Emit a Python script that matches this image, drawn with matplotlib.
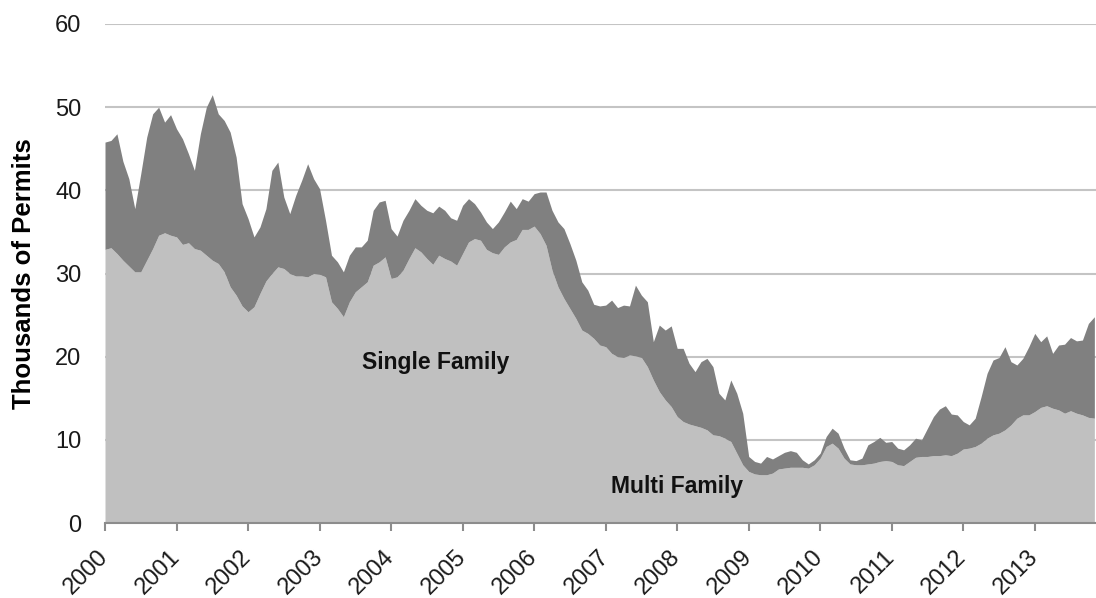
import matplotlib
matplotlib.use("Agg")
import matplotlib.pyplot as plt
import matplotlib.transforms as mtransforms
import numpy as np

plt.rcParams['font.family'] = ['Liberation Sans', 'DejaVu Sans']

# monthly permits (thousands), Jan 2000 - Nov 2013
total_permits = [
    45.8, 46.0, 46.8, 43.5, 41.4, 37.8, 42.0, 46.4, 49.2, 50.0, 48.2, 49.1,
    47.4, 46.2, 44.4, 42.4, 46.8, 50.0, 51.5, 49.2, 48.4, 47.0, 44.0, 38.4,
    36.6, 34.4, 35.6, 37.8, 42.4, 43.4, 39.2, 37.2, 39.4, 41.2, 43.2, 41.4,
    40.2, 36.4, 32.2, 31.4, 30.2, 32.2, 33.2, 33.2, 34.0, 37.6, 38.6, 38.8,
    35.4, 34.5, 36.4, 37.6, 39.0, 38.2, 37.6, 37.3, 38.1, 37.6, 36.7, 36.4,
    38.2, 39.0, 38.4, 37.4, 36.2, 35.4, 36.2, 37.4, 38.7, 37.8, 39.0, 38.7,
    39.6, 39.8, 39.8, 37.6, 36.2, 35.4, 33.6, 31.6, 29.0, 28.0, 26.3, 26.1,
    26.2, 26.8, 25.9, 26.2, 26.1, 28.6, 27.4, 26.6, 21.8, 23.8, 23.2, 23.7,
    21.0, 21.0, 19.2, 18.2, 19.4, 19.8, 18.8, 15.6, 14.8, 17.2, 15.6, 13.2,
    8.0, 7.4, 7.2, 8.0, 7.7, 8.1, 8.5, 8.7, 8.5, 7.6, 7.1, 7.6,
    8.4, 10.4, 11.4, 10.8, 9.0, 7.6, 7.5, 7.8, 9.4, 9.8, 10.3, 9.7,
    9.8, 9.0, 8.8, 9.4, 10.2, 10.0, 11.4, 12.8, 13.7, 14.1, 13.1, 13.0,
    12.2, 11.8, 12.6, 15.2, 18.0, 19.6, 19.9, 21.2, 19.4, 19.0, 19.8, 21.2,
    22.8, 21.8, 22.5, 20.4, 21.4, 21.5, 22.3, 21.9, 22.0, 24.0, 24.8,
]

single_family = [
    32.9, 33.1, 32.4, 31.6, 30.9, 30.2, 30.2, 31.6, 33.0, 34.6, 34.9, 34.6,
    34.4, 33.5, 33.7, 33.0, 32.8, 32.2, 31.6, 31.2, 30.2, 28.4, 27.4, 26.1,
    25.4, 26.0, 27.6, 29.1, 30.0, 30.8, 30.6, 30.0, 29.7, 29.7, 29.6, 30.0,
    29.9, 29.6, 26.6, 25.8, 24.8, 26.6, 27.8, 28.4, 29.0, 31.0, 31.4, 32.0,
    29.4, 29.6, 30.4, 31.8, 33.1, 32.6, 31.8, 31.1, 32.2, 31.8, 31.5, 31.0,
    32.4, 33.8, 34.2, 34.0, 32.9, 32.5, 32.3, 33.2, 33.8, 34.1, 35.3, 35.3,
    35.7, 34.8, 33.4, 30.4, 28.4, 27.0, 25.8, 24.6, 23.2, 22.8, 22.2, 21.4,
    21.2, 20.4, 20.0, 19.9, 20.2, 20.1, 19.9, 18.8, 17.2, 15.8, 14.8, 14.0,
    12.8, 12.2, 11.9, 11.7, 11.5, 11.2, 10.6, 10.5, 10.2, 9.8, 8.4, 7.0,
    6.2, 5.9, 5.8, 5.8, 6.0, 6.5, 6.6, 6.7, 6.7, 6.7, 6.6, 7.0,
    7.8, 9.2, 9.6, 9.0, 7.8, 7.1, 7.0, 7.0, 7.1, 7.2, 7.4, 7.5,
    7.4, 7.0, 6.9, 7.4, 7.9, 8.0, 8.0, 8.1, 8.1, 8.2, 8.1, 8.4,
    8.9, 9.0, 9.2, 9.6, 10.2, 10.6, 10.8, 11.2, 11.8, 12.6, 13.0, 13.0,
    13.4, 13.9, 14.1, 13.8, 13.6, 13.2, 13.5, 13.2, 13.0, 12.7, 12.6,
]

years = [str(y) for y in range(2000, 2014)]

months = np.arange(len(total_permits))

fig = plt.figure(figsize=(10.96, 5.98), dpi=100)
ax = fig.add_axes([105 / 1096, 75 / 598, 991 / 1096, 499 / 598])

ax.fill_between(months, 0, single_family, color='#c0c0c0', linewidth=0, zorder=2)
ax.fill_between(months, single_family, total_permits, color='#808080', linewidth=0, zorder=2)

ax.set_xlim(0, 991 / 5.96)
ax.set_ylim(0, 60)
ax.set_yticks(range(0, 61, 10))
ax.yaxis.grid(True, color='#c4c4c4', linewidth=1.5, zorder=1)
ax.set_axisbelow(True)

ax.set_xticks(np.arange(len(years)) * 12)
ax.set_xticklabels(years, rotation=45, ha='right', va='center', rotation_mode='anchor')
# nudge the slanted year labels a little to the left so they end under the tick
shift = mtransforms.ScaledTranslation(-5 / 100, 0, fig.dpi_scale_trans)
for lbl in ax.get_xticklabels():
    lbl.set_transform(lbl.get_transform() + shift)

for s in ['top', 'right', 'left']:
    ax.spines[s].set_visible(False)
ax.spines['bottom'].set_color('#8c8c8c')
ax.spines['bottom'].set_linewidth(1.5)
ax.spines['bottom'].set_zorder(3)

ax.tick_params(axis='x', direction='out', length=6, width=1.5, color='#8c8c8c',
               labelsize=17, pad=16, labelcolor='#1a1a1a')
ax.tick_params(axis='y', length=0, labelsize=17, pad=17, labelcolor='#1a1a1a')

ax.set_ylabel('Thousands of Permits', fontsize=18.5, fontweight='bold')
ax.yaxis.set_label_coords(-0.070, 0.5)

ax.text(55.5, 19.35, 'Single Family', fontsize=16.5, fontweight='bold',
        ha='center', va='center', color='#111111', zorder=4)
ax.text(95.9, 4.33, 'Multi Family', fontsize=16.5, fontweight='bold',
        ha='center', va='center', color='#111111', zorder=4)

fig.savefig('out.png', dpi=100)
